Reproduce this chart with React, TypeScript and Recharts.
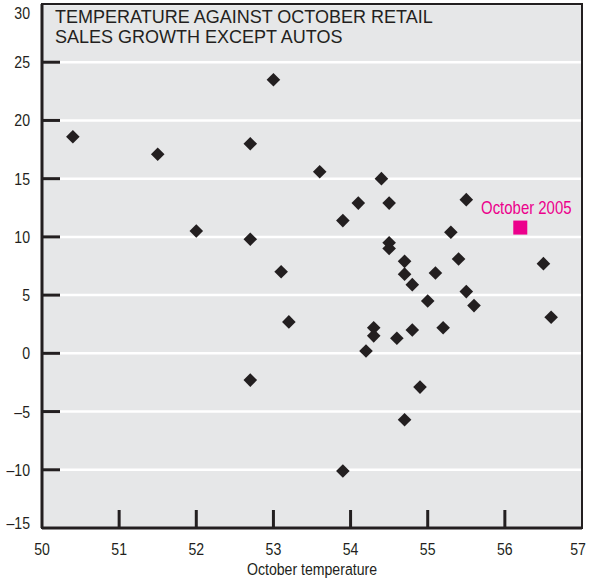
import { ScatterChart, Scatter, XAxis, YAxis, CartesianGrid, ReferenceArea } from 'recharts';

// October temperature (x) vs retail sales growth ex autos (y)
const temperature = [
  50.4, 51.5, 52.7, 53.0, 52.0, 52.7, 53.1, 53.2, 52.7, 53.6,
  54.4, 54.1, 54.5, 55.5, 53.9, 55.3, 54.5, 54.5, 54.7, 55.4,
  56.5, 54.7, 55.1, 54.8, 55.5, 55.6, 55.0, 56.6, 54.3, 54.3,
  54.8, 55.2, 54.6, 54.2, 54.9, 54.7, 53.9,
];
const salesGrowth = [
  18.6, 17.1, 18.0, 23.5, 10.5, 9.8, 7.0, 2.7, -2.3, 15.6,
  15.0, 12.9, 12.9, 13.2, 11.4, 10.4, 9.5, 9.0, 7.9, 8.1,
  7.7, 6.8, 6.9, 5.9, 5.3, 4.1, 4.5, 3.1, 2.2, 1.5,
  2.0, 2.2, 1.3, 0.2, -2.9, -5.7, -10.1,
];
const highlightTemp = [56.2];
const highlightGrowth = [10.8];
const highlightLabel = ['October 2005'];

const xTicks = [50, 51, 52, 53, 54, 55, 56, 57];
const yTicks = [-15, -10, -5, 0, 5, 10, 15, 20, 25, 30];

const points = temperature.map((t, i) => ({ x: t, y: salesGrowth[i] }));
const highlight = highlightTemp.map((t, i) => ({ x: t, y: highlightGrowth[i], name: highlightLabel[i] }));

const INK = '#231f20';
const PINK = '#ec008c';
const SANS = '"Liberation Sans", Arial, sans-serif';

const fmt = (v: number) => (v < 0 ? '\u2013' + Math.abs(v) : String(v));

// condensed look: Liberation Sans squeezed horizontally
const Narrow = ({ x, y, anchor, size = 17, fill = INK, children }: any) => (
  <text
    transform={`translate(${x},${y}) scale(0.83,1)`}
    textAnchor={anchor}
    fontFamily={SANS}
    fontSize={size}
    fill={fill}
  >
    {children}
  </text>
);

const YTick = (props: any) => {
  const { x, y, payload } = props;
  const v = payload.value;
  // end labels are nudged inside the frame, as in the original
  const nudge = v === 30 ? 9 : v === -15 ? -5 : 0;
  return (
    <g>
      {v > -15 && v < 30 && <line x1={x} x2={x + 18} y1={y} y2={y} stroke={INK} strokeWidth={3} />}
      <Narrow x={x - 12} y={y + 6 + nudge} anchor="end">{fmt(v)}</Narrow>
    </g>
  );
};

const XTick = (props: any) => {
  const { x, y, payload } = props;
  const v = payload.value;
  const nudge = v === 57 ? -4 : 0;
  return (
    <g>
      {v > 50 && v < 57 && <line x1={x} x2={x} y1={y} y2={y - 18} stroke={INK} strokeWidth={3} />}
      <Narrow x={x + nudge} y={y + 27} anchor="middle">{fmt(v)}</Narrow>
    </g>
  );
};

const XTitle = (props: any) => {
  const vb = props.viewBox || {};
  return (
    <Narrow x={vb.x + vb.width / 2} y={vb.y + 47} anchor="middle">
      October temperature
    </Narrow>
  );
};

const Diamond = (props: any) => {
  const { cx, cy } = props;
  const r = 6.8;
  return (
    <polygon
      points={`${cx},${cy - r} ${cx + r},${cy} ${cx},${cy + r} ${cx - r},${cy}`}
      fill={INK}
    />
  );
};

const HighlightSquare = (props: any) => {
  const { cx, cy, payload } = props;
  const s = 14;
  return (
    <g>
      <rect x={cx - s / 2} y={cy - s / 2} width={s} height={s} fill={PINK} />
      <Narrow x={cx + 6} y={cy - 14} anchor="middle" size={18} fill={PINK}>
        {payload.name}
      </Narrow>
    </g>
  );
};

export default function App() {
  return (
    <div style={{ position: 'absolute', left: 0, top: 0, width: 592, height: 579, background: '#fff' }}>
      <ScatterChart width={592} height={579} margin={{ top: 4, right: 10, bottom: 0, left: 0 }}>
        <CartesianGrid vertical={false} fill="#e6e7e8" stroke="#ffffff" strokeWidth={2.5} strokeOpacity={1} />
        <ReferenceArea x1={50} x2={57} y1={-15} y2={30} fill="none" stroke={INK} strokeWidth={2} ifOverflow="visible" />
        <XAxis
          type="number"
          dataKey="x"
          domain={[50, 57]}
          ticks={xTicks}
          interval={0}
          height={51}
          tickLine={false}
          tickSize={0}
          tickMargin={0}
          tick={<XTick />}
          axisLine={{ stroke: INK, strokeWidth: 3 }}
          label={{ content: (p: any) => <XTitle {...p} /> }}
        />
        <YAxis
          type="number"
          dataKey="y"
          domain={[-15, 30]}
          ticks={yTicks}
          interval={0}
          width={42}
          tickLine={false}
          tickSize={0}
          tickMargin={0}
          tick={<YTick />}
          axisLine={{ stroke: INK, strokeWidth: 3 }}
        />
        <Scatter data={points} shape={<Diamond />} isAnimationActive={false} />
        <Scatter data={highlight} shape={<HighlightSquare />} isAnimationActive={false} />
      </ScatterChart>
      <div
        style={{
          position: 'absolute',
          left: 55,
          top: 8,
          fontFamily: SANS,
          fontSize: 18,
          lineHeight: '19.5px',
          color: INK,
          pointerEvents: 'none',
        }}
      >
        TEMPERATURE AGAINST OCTOBER RETAIL
        <br />
        SALES GROWTH EXCEPT AUTOS
      </div>
    </div>
  );
}
